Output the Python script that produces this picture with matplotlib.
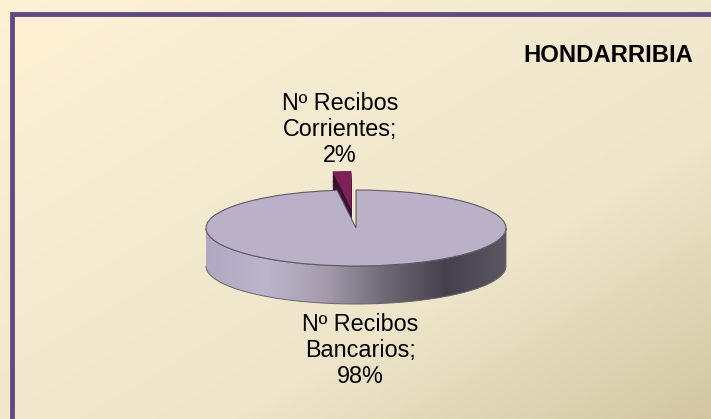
import numpy as np
import matplotlib
matplotlib.use("Agg")
import matplotlib.pyplot as plt
from matplotlib.colors import LinearSegmentedColormap
from matplotlib.patches import PathPatch
from matplotlib.path import Path

W, H = 711, 419

# data
labels = ["Nº Recibos\nCorrientes;\n2%", "Nº Recibos\nBancarios;\n98%"]
values = [2, 98]
title = "HONDARRIBIA"

# layout in pixels
cx, cy, rx, ry = 356, 228, 150, 38
explode = 0.5
depth = 1.0

plt.rcParams["font.family"] = ["Liberation Sans", "DejaVu Sans"]
fig = plt.figure(figsize=(W / 100, H / 100), dpi=100, facecolor="white")
ax = fig.add_axes([0, 0, 1, 1])

xlim = (-cx / rx, (W - cx) / rx)
ylim = ((cy - H) / ry, cy / ry)

# background gradient, top left to bottom right
yy, xx = np.mgrid[0:1:200j, 0:1:340j]
bg = LinearSegmentedColormap.from_list("bg", ["#FFF1D3", "#F5EBD1", "#EEE5CA", "#D3C7A2"])
ax.imshow((xx + yy) / 2, cmap=bg, extent=[*xlim, *ylim], origin="upper", aspect="auto", zorder=0)

# side of the exploded slice
for k in np.linspace(depth, 0.02, 30):
    w, _ = ax.pie(values, startangle=90, explode=[explode, 0], center=(0, -k),
                  colors=["#3E1030", "none"], wedgeprops={"linewidth": 0})
    w[1].remove()
    w[0].set_zorder(2)

# side of the big slice, shaded left to right
t = np.linspace(np.pi, 2 * np.pi, 200)
ex, ey = np.cos(t), np.sin(t)
side = Path(np.column_stack([np.r_[ex, ex[::-1]], np.r_[ey, ey[::-1] - depth]]))
clip = PathPatch(side, fc="none", ec="#6A6570", lw=0.7, zorder=3.5)
ax.add_patch(clip)
shade = LinearSegmentedColormap.from_list("side", ["#B0A8C0", "#BDB5CB", "#A39BAC", "#6E6875", "#45414C", "#5A5662"])
im = ax.imshow(np.linspace(0, 1, 256)[None, :], cmap=shade, extent=[-1, 1, -1 - depth, 0],
               aspect="auto", zorder=3)
im.set_clip_path(clip)

# top faces
wedges, _ = ax.pie(values, startangle=90, explode=[explode, 0], colors=["#7F2159", "#BAB0C8"],
                   wedgeprops={"linewidth": 0.8, "edgecolor": "#5F5A66"})
wedges[0].set_zorder(2.5)
wedges[0].set_linewidth(0)
wedges[1].set_zorder(4)

ax.set_aspect("auto")
ax.set_xlim(xlim)
ax.set_ylim(ylim)
ax.axis("off")
ax.set_position([0, 0, 1, 1])

# frame
fig.add_artist(plt.Rectangle((12 / W, -0.05), 1.2, 1 - 14 / H + 0.05, transform=fig.transFigure,
                             fc="none", ec="#5F4B82", lw=3.5))

fig.text(608 / W, 1 - 55 / H, title, fontsize=17.2, fontweight="bold", ha="center", va="center", color="black")
fig.text(340 / W, 1 - 129.5 / H, labels[0], fontsize=16.8, ha="center", va="center", linespacing=1.17)
fig.text(360.5 / W, 1 - 350.5 / H, labels[1], fontsize=16.8, ha="center", va="center", linespacing=1.17)

fig.savefig("out.png", dpi=100)
